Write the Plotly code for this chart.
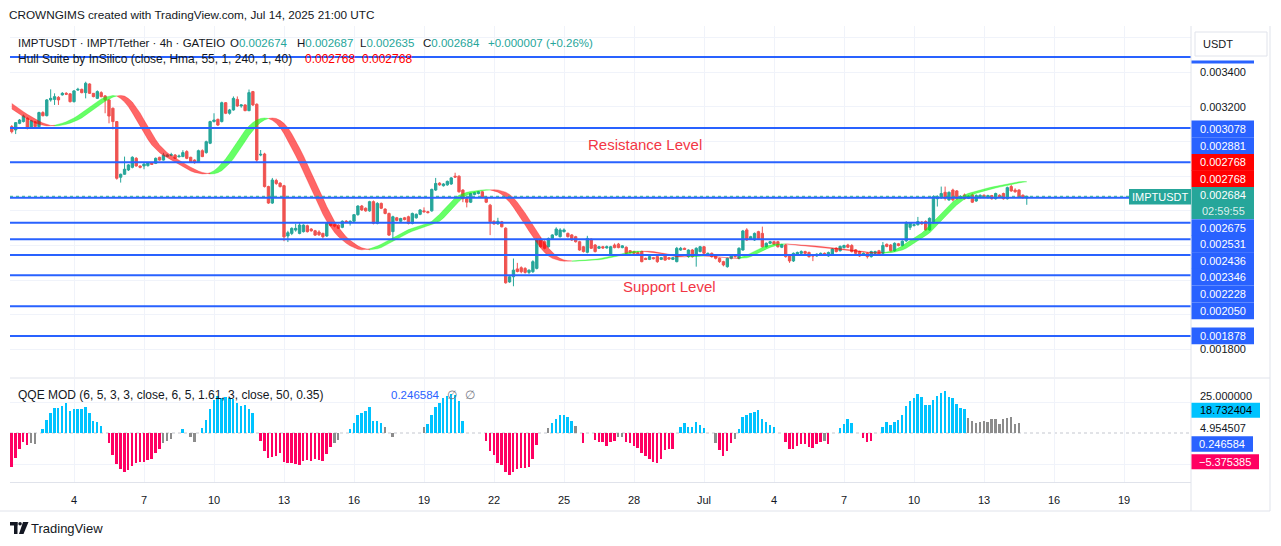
import plotly.graph_objects as go
import pandas as pd

# ------------------------------------------------------------------ data
start_time = "2025-06-01 08:00"      # first 4h bar
price_unit = 1e-6                    # values below are in millionths of USDT

open_ = [
    3086, 3067, 3105, 3115, 3134, 3080, 3114, 3086, 3167, 3149,
    3240, 3243, 3255, 3269, 3278, 3275, 3230, 3297, 3301, 3282,
    3332, 3278, 3249, 3282, 3263, 3240, 3192, 3115, 2794, 2811,
    2836, 2851, 2903, 2859, 2859, 2861, 2878, 2874, 2909, 2893,
    2914, 2920, 2922, 2912, 2913, 2942, 2909, 2893, 2884, 2947,
    2936, 2990, 3115, 3128, 3115, 3224, 3163, 3182, 3243, 3205,
    3211, 3178, 3288, 3215, 2922, 2928, 2740, 2645, 2775, 2760,
    2745, 2455, 2470, 2489, 2470, 2480, 2514, 2495, 2485, 2478,
    2470, 2455, 2530, 2520, 2518, 2505, 2540, 2530, 2540, 2578,
    2628, 2615, 2600, 2653, 2528, 2643, 2610, 2585, 2480, 2560,
    2540, 2560, 2566, 2527, 2560, 2580, 2600, 2595, 2600, 2720,
    2760, 2745, 2750, 2755, 2800, 2800, 2720, 2670, 2650, 2695,
    2700, 2710, 2680, 2633, 2540, 2525, 2537, 2500, 2190, 2220,
    2265, 2272, 2268, 2245, 2249, 2268, 2432, 2422, 2393, 2441,
    2461, 2451, 2480, 2470, 2461, 2451, 2422, 2393, 2361, 2437,
    2403, 2384, 2393, 2386, 2345, 2403, 2408, 2388, 2390, 2370,
    2365, 2360, 2365, 2326, 2320, 2330, 2336, 2320, 2345, 2330,
    2320, 2307, 2374, 2384, 2336, 2374, 2345, 2365, 2393, 2345,
    2355, 2345, 2326, 2307, 2278, 2326, 2345, 2326, 2374, 2490,
    2437, 2432, 2480, 2470, 2393, 2413, 2422, 2422, 2390, 2403,
    2345, 2311, 2350, 2355, 2365, 2360, 2345, 2340, 2345, 2355,
    2340, 2345, 2384, 2370, 2388, 2403, 2400, 2375, 2365, 2345,
    2355, 2336, 2355, 2370, 2355, 2407, 2403, 2370, 2410, 2400,
    2427, 2505, 2515, 2520, 2535, 2538, 2490, 2530, 2670, 2676,
    2707, 2663, 2720, 2715, 2672, 2692, 2672, 2692, 2657, 2677,
    2690, 2676, 2688, 2670, 2690, 2700, 2670, 2740, 2720, 2720,
    2690, 2674,
]
high = [
    3095, 3112, 3130, 3155, 3140, 3125, 3118, 3172, 3175, 3245,
    3301, 3278, 3262, 3285, 3285, 3280, 3297, 3310, 3305, 3345,
    3336, 3280, 3295, 3290, 3268, 3245, 3196, 3118, 2815, 2913,
    2870, 2915, 2910, 2862, 2875, 2882, 2882, 2908, 2912, 2935,
    2928, 2935, 2928, 2925, 2950, 2950, 2912, 2897, 2953, 2955,
    3005, 3120, 3163, 3132, 3230, 3228, 3188, 3260, 3260, 3215,
    3215, 3300, 3292, 3220, 2951, 2935, 2745, 2790, 2785, 2765,
    2750, 2485, 2505, 2525, 2530, 2522, 2520, 2500, 2490, 2488,
    2474, 2532, 2536, 2526, 2522, 2545, 2547, 2545, 2582, 2632,
    2634, 2620, 2658, 2660, 2650, 2648, 2615, 2590, 2572, 2565,
    2560, 2565, 2572, 2590, 2585, 2610, 2620, 2600, 2728, 2790,
    2765, 2760, 2775, 2795, 2820, 2805, 2725, 2675, 2705, 2710,
    2715, 2715, 2685, 2640, 2545, 2560, 2542, 2505, 2225, 2325,
    2300, 2280, 2275, 2262, 2315, 2441, 2445, 2430, 2446, 2465,
    2505, 2500, 2499, 2475, 2466, 2456, 2427, 2398, 2456, 2441,
    2408, 2398, 2398, 2400, 2398, 2412, 2415, 2402, 2395, 2374,
    2370, 2365, 2370, 2330, 2340, 2334, 2340, 2334, 2350, 2334,
    2334, 2392, 2392, 2388, 2378, 2380, 2390, 2398, 2398, 2360,
    2360, 2350, 2330, 2312, 2330, 2350, 2350, 2390, 2490, 2500,
    2456, 2475, 2485, 2509, 2418, 2427, 2427, 2427, 2410, 2408,
    2350, 2360, 2365, 2372, 2370, 2365, 2350, 2355, 2360, 2360,
    2365, 2385, 2390, 2400, 2405, 2410, 2408, 2380, 2370, 2360,
    2360, 2370, 2370, 2375, 2420, 2412, 2408, 2418, 2415, 2430,
    2540, 2535, 2525, 2565, 2540, 2545, 2562, 2690, 2690, 2740,
    2740, 2712, 2728, 2720, 2690, 2700, 2690, 2700, 2695, 2695,
    2695, 2693, 2692, 2705, 2695, 2705, 2740, 2750, 2730, 2725,
    2695, 2687,
]
low = [
    3047, 3043, 3100, 3110, 3070, 3075, 3080, 3082, 3145, 3145,
    3230, 3211, 3211, 3265, 3268, 3225, 3225, 3292, 3278, 3249,
    3274, 3255, 3245, 3255, 3163, 3105, 3070, 2780, 2763, 2808,
    2830, 2845, 2855, 2845, 2840, 2855, 2865, 2870, 2890, 2890,
    2912, 2916, 2900, 2908, 2910, 2898, 2880, 2872, 2880, 2910,
    2930, 2985, 3110, 3090, 3110, 3158, 3155, 3178, 3200, 3195,
    3175, 3175, 3205, 2880, 2915, 2735, 2640, 2640, 2750, 2735,
    2425, 2420, 2460, 2480, 2465, 2475, 2475, 2480, 2455, 2455,
    2440, 2450, 2510, 2505, 2495, 2500, 2530, 2515, 2535, 2572,
    2600, 2595, 2595, 2522, 2522, 2610, 2580, 2455, 2430, 2540,
    2535, 2545, 2522, 2522, 2555, 2575, 2590, 2585, 2595, 2715,
    2745, 2740, 2745, 2750, 2790, 2705, 2650, 2620, 2645, 2690,
    2695, 2675, 2645, 2460, 2520, 2520, 2505, 2180, 2185, 2165,
    2245, 2240, 2238, 2235, 2242, 2262, 2388, 2378, 2388, 2436,
    2456, 2446, 2475, 2446, 2427, 2417, 2370, 2360, 2355, 2380,
    2360, 2380, 2380, 2382, 2340, 2384, 2384, 2384, 2350, 2355,
    2350, 2345, 2303, 2316, 2316, 2320, 2300, 2316, 2312, 2318,
    2316, 2303, 2370, 2374, 2330, 2330, 2278, 2360, 2350, 2340,
    2330, 2320, 2300, 2280, 2272, 2320, 2330, 2320, 2370, 2427,
    2432, 2427, 2436, 2388, 2388, 2408, 2403, 2388, 2385, 2330,
    2300, 2305, 2345, 2350, 2350, 2330, 2310, 2335, 2340, 2340,
    2335, 2340, 2360, 2365, 2383, 2385, 2360, 2350, 2335, 2340,
    2325, 2330, 2350, 2345, 2350, 2390, 2365, 2365, 2395, 2395,
    2420, 2490, 2510, 2515, 2520, 2485, 2485, 2525, 2625, 2670,
    2660, 2658, 2655, 2665, 2668, 2665, 2668, 2645, 2652, 2672,
    2673, 2672, 2665, 2665, 2675, 2665, 2665, 2710, 2705, 2675,
    2670, 2635,
]
close = [
    3057, 3109, 3124, 3147, 3076, 3120, 3086, 3167, 3149, 3240,
    3249, 3259, 3240, 3278, 3273, 3230, 3292, 3301, 3282, 3336,
    3278, 3259, 3288, 3259, 3240, 3147, 3115, 2788, 2811, 2840,
    2865, 2909, 2859, 2851, 2870, 2878, 2868, 2903, 2893, 2922,
    2922, 2924, 2903, 2916, 2936, 2903, 2884, 2878, 2947, 2913,
    2999, 3115, 3124, 3095, 3224, 3163, 3182, 3249, 3205, 3211,
    3178, 3282, 3211, 2893, 2926, 2740, 2645, 2778, 2758, 2740,
    2450, 2474, 2499, 2499, 2518, 2518, 2480, 2485, 2460, 2462,
    2451, 2528, 2515, 2512, 2500, 2540, 2535, 2540, 2578, 2628,
    2605, 2600, 2653, 2528, 2643, 2615, 2585, 2460, 2566, 2545,
    2556, 2550, 2527, 2585, 2580, 2605, 2595, 2590, 2724, 2758,
    2750, 2755, 2770, 2790, 2795, 2710, 2670, 2650, 2700, 2705,
    2710, 2680, 2650, 2537, 2525, 2540, 2508, 2185, 2220, 2258,
    2250, 2249, 2245, 2258, 2307, 2432, 2393, 2384, 2441, 2461,
    2495, 2490, 2490, 2451, 2432, 2422, 2374, 2365, 2441, 2384,
    2365, 2393, 2386, 2393, 2393, 2388, 2388, 2398, 2355, 2360,
    2355, 2350, 2307, 2320, 2336, 2324, 2307, 2330, 2316, 2322,
    2330, 2384, 2384, 2378, 2374, 2336, 2384, 2393, 2355, 2355,
    2336, 2326, 2307, 2288, 2326, 2345, 2336, 2384, 2484, 2432,
    2451, 2470, 2441, 2393, 2413, 2422, 2407, 2393, 2405, 2336,
    2311, 2355, 2360, 2365, 2355, 2336, 2340, 2350, 2355, 2345,
    2360, 2380, 2365, 2395, 2400, 2390, 2365, 2355, 2340, 2355,
    2336, 2365, 2365, 2350, 2400, 2395, 2370, 2413, 2400, 2425,
    2528, 2530, 2520, 2538, 2525, 2490, 2557, 2682, 2682, 2700,
    2672, 2707, 2663, 2670, 2682, 2670, 2685, 2650, 2688, 2690,
    2678, 2688, 2670, 2700, 2680, 2670, 2734, 2715, 2710, 2680,
    2677, 2684,
]
# Hull Suite (HMA 55) line, same units; the two values before the first bar feed the lag band
hull_before = [3220, 3204]
hull = [
    3188, 3172, 3157, 3143, 3130, 3118, 3107, 3099, 3093, 3090,
    3091, 3094, 3099, 3106, 3114, 3124, 3136, 3150, 3166, 3182,
    3199, 3216, 3232, 3246, 3256, 3263, 3266, 3262, 3248, 3228,
    3200, 3165, 3125, 3084, 3047, 3012, 2980, 2955, 2935, 2920,
    2907, 2893, 2878, 2865, 2852, 2840, 2830, 2822, 2816, 2813,
    2814, 2820, 2832, 2850, 2873, 2900, 2932, 2966, 3000, 3035,
    3065, 3090, 3110, 3124, 3133, 3136, 3133, 3122, 3105, 3080,
    3045, 3005, 2962, 2918, 2873, 2825, 2775, 2725, 2675, 2625,
    2580, 2540, 2505, 2475, 2450, 2430, 2413, 2398, 2387, 2379,
    2375, 2377, 2381, 2388, 2397, 2408, 2420, 2433, 2447, 2460,
    2472, 2482, 2492, 2500, 2507, 2514, 2521, 2529, 2540, 2558,
    2580, 2605, 2630, 2654, 2675, 2690, 2700, 2707, 2712, 2716,
    2719, 2721, 2722, 2721, 2716, 2708, 2695, 2675, 2650, 2620,
    2588, 2553, 2518, 2483, 2448, 2415, 2385, 2360, 2340, 2326,
    2317, 2312, 2310, 2310, 2311, 2312, 2313, 2315, 2316, 2318,
    2321, 2324, 2328, 2332, 2337, 2342, 2347, 2353, 2358, 2363,
    2367, 2368, 2367, 2365, 2362, 2359, 2356, 2352, 2347, 2342,
    2338, 2335, 2334, 2335, 2337, 2339, 2340, 2341, 2340, 2338,
    2336, 2333, 2331, 2329, 2327, 2326, 2326, 2329, 2335, 2344,
    2356, 2368, 2379, 2389, 2397, 2403, 2407, 2409, 2410, 2409,
    2407, 2405, 2403, 2401, 2399, 2397, 2394, 2392, 2390, 2387,
    2385, 2382, 2380, 2377, 2374, 2371, 2368, 2365, 2362, 2360,
    2358, 2357, 2356, 2357, 2359, 2362, 2367, 2374, 2384, 2398,
    2414, 2428, 2442, 2457, 2472, 2492, 2515, 2540, 2565, 2588,
    2612, 2634, 2653, 2668, 2681, 2692, 2701, 2708, 2715, 2721,
    2727, 2732, 2737, 2742, 2747, 2752, 2757, 2761, 2765, 2768,
    2769, 2768,
]
# QQE MOD histogram
qqe = [
    -27.1, -20.4, -13.1, -7.0, -9.6, -8.4, -8.9, None, 3.0, 10.5,
    16.4, 19.9, 19.9, 21.8, 23.9, 18.0, 19.1, 19.1, 19.1, 21.3,
    15.9, 9.6, 8.9, 5.6, None, -8.4, -17.8, -25.0, -29.3, -31.1,
    -29.9, -26.6, -24.5, -23.6, -23.4, -21.8, -21.3, -16.4, -12.9, -8.4,
    -6.1, -5.1, None, None, 3.0, None, -3.0, -7.0, None, 3.8,
    10.5, 19.1, 26.6, 29.9, 28.0, 29.3, 28.0, 27.1, 24.5, 21.8,
    22.6, 19.1, 16.4, None, -6.1, -14.3, -20.4, -19.1, -18.5, -16.4,
    -23.1, -24.5, -24.5, -25.0, -26.1, -22.6, -21.8, -22.3, -21.3, -21.8,
    -22.6, -16.9, -11.0, -7.8, -5.6, None, None, 3.0, 8.4, 14.5,
    16.4, 18.0, 21.3, 9.6, 9.6, 7.8, 5.1, None, -3.5, None,
    None, None, None, None, None, None, 5.1, 7.0, 14.5, 20.8,
    24.5, 28.0, 29.9, 31.5, 30.6, 26.1, 10.0, None, None, None,
    None, None, -6.6, -14.3, -17.8, -23.9, -25.8, -31.1, -33.9, -31.1,
    -29.3, -28.0, -28.0, -27.1, -21.0, -9.6, None, None, 4.3, 8.4,
    11.3, 14.8, 14.8, 12.9, 10.0, 5.6, None, -7.8, None, None,
    -5.6, -7.0, -7.0, -10.3, -7.0, -6.1, -3.5, -3.5, -7.0, -7.8,
    -10.3, -12.4, -16.4, -18.5, -20.8, -23.1, -24.5, -20.8, -13.8, -12.9,
    -12.9, None, 5.1, 8.4, 5.1, 5.1, 9.1, 6.5, 4.3, None,
    None, -8.4, -13.8, -18.3, -14.3, -7.8, -5.1, 3.3, 13.1, 14.5,
    15.9, 16.9, 18.5, 11.3, 8.6, 6.5, 4.9, None, None, -7.0,
    -12.6, -12.6, -10.3, -8.6, -8.6, -11.0, -11.9, -8.6, -7.4, -6.1,
    -8.6, None, None, 4.3, 7.3, 11.3, 8.4, None, None, -4.3,
    -7.0, -6.1, None, None, 4.6, 8.6, 6.5, 8.6, 10.3, 14.5,
    21.8, 25.8, 28.0, 31.1, 29.0, 22.6, 22.6, 26.6, 29.9, 32.0,
    33.9, 29.0, 28.0, 23.4, 19.9, 19.1, 11.9, 9.6, 8.4, 9.1,
    9.6, 8.9, 11.0, 11.0, 7.3, 11.0, 11.9, 12.6, 7.0, 8.0,
    None, None,
]
# b = above upper band, r = below lower band, g = neutral, - = no bar
qqe_state = (
    "rrrrrgg-bb" "bbbbbbbbbb" "bbbb-rrrrr" "rrrrrrrrrg" "gg--b-gg-b"
    "bbbbbbbbbb" "bbb-rrrrrr" "rrrrrrrrrr" "rrrgg--bbb" "bbbbbbg-g-"
    "------gbbb" "bbbbbbb---" "--rrrrrrrr" "rrrrrr--gb" "bbbbbg-r--"
    "rrrrrrggrr" "rrrrrrrrrr" "r-bbbbbbb-" "-grrrrgbbb" "bbbbbbb--r"
    "rrrrrrrrrg" "r--bbbb--r" "rr--bbbbbb" "bbbbbbbbbb" "bbbbbbgggg"
    "gggggggggg" "--"
)
qqe_threshold = 25
qqe_labels = [18.732404, 4.954507, 0.246584, -5.375385]

levels = [3488, 3078, 2881, 2675, 2531, 2436, 2346, 2228, 2050, 1878]  # drawn horizontal lines
price_ticks = [1800, 2000, 2200, 2400, 2600, 2800, 3000, 3200, 3400, 3600]
price_tick_shown = [1800, 3200, 3400]
x_tick_dates = ["2025-06-04", "2025-06-07", "2025-06-10", "2025-06-13", "2025-06-16",
                "2025-06-19", "2025-06-22", "2025-06-25", "2025-06-28", "2025-07-01",
                "2025-07-04", "2025-07-07", "2025-07-10", "2025-07-13", "2025-07-16",
                "2025-07-19"]
x_tick_text = ["4", "7", "10", "13", "16", "19", "22", "25", "28", "Jul",
               "4", "7", "10", "13", "16", "19"]
countdown = "02:59:55"

n = len(close)
for arr in (open_, high, low, hull, qqe):
    assert len(arr) == n, len(arr)
assert len(qqe_state) == n, len(qqe_state)

# ------------------------------------------------------------------ geometry
W, H = 1281, 546
PL, PR, PT, PB = 10, 1191, 26, 482
FONT = "Liberation Sans, Arial, sans-serif"
TEXT = "#131722"
UP, DOWN = "#26a69a", "#ef5350"
BLUE = "#2962ff"


def fx(px):
    return (px - PL) / (PR - PL)


def fy(py):
    return (PB - py) / (PB - PT)


PX_PER_PRICE = 1 / 5.769       # pixels per 1e-6
PRICE_Y_REF, PRICE_REF = 128, 3078
price_top = PRICE_REF + (PRICE_Y_REF - PT) / PX_PER_PRICE
price_bot = PRICE_REF - (377 - PRICE_Y_REF) / PX_PER_PRICE
Q_PX, Q_ZERO = 1.24, 433
q_top = (Q_ZERO - 379) / Q_PX
q_bot = (Q_ZERO - PB) / Q_PX

ref_day = pd.Timestamp("2025-06-04")
px_day = (1124 - 74) / 45.0
x_left = ref_day - pd.Timedelta(days=(74 - PL) / px_day)
x_right = ref_day + pd.Timedelta(days=(PR - 74) / px_day)

times = pd.date_range(start_time, periods=n, freq="4h")
tx = [t.strftime("%Y-%m-%d %H:%M:%S") for t in times]
bar_ms = 4 * 3600 * 1000

u = price_unit
fig = go.Figure()

fig.add_trace(go.Candlestick(
    x=tx, open=[v * u for v in open_], high=[v * u for v in high],
    low=[v * u for v in low], close=[v * u for v in close],
    increasing=dict(line=dict(color=UP, width=1), fillcolor=UP),
    decreasing=dict(line=dict(color=DOWN, width=1), fillcolor=DOWN),
    whiskerwidth=0, hoverinfo="skip", xaxis="x", yaxis="y"))

# Hull band between HMA and HMA[2]
hull_lag = (hull_before + hull)[:n]
rising = [hull[i] > hull_lag[i] for i in range(n)]
segs, s = [], 0
for i in range(1, n):
    if rising[i] != rising[s]:
        segs.append((s, i, rising[s]))
        s = i
segs.append((s, n - 1, rising[s]))
for a, b, r in segs:
    idx = list(range(a, b + 1))
    col = "rgba(0,255,0,0.6)" if r else "rgba(255,0,0,0.6)"
    edge = "rgba(0,235,0,0.45)" if r else "rgba(240,0,0,0.45)"
    fig.add_trace(go.Scatter(
        x=[tx[k] for k in idx] + [tx[k] for k in reversed(idx)],
        y=[hull[k] * u for k in idx] + [hull_lag[k] * u for k in reversed(idx)],
        fill="toself", fillcolor=col, mode="lines", line=dict(color=edge, width=0.6),
        hoverinfo="skip", xaxis="x", yaxis="y"))

qcol = {"b": "#00c3ff", "r": "#ff0062", "g": "#8c8c8c", "-": "rgba(0,0,0,0)"}
fig.add_trace(go.Bar(
    x=tx, y=qqe, marker=dict(color=[qcol[c] for c in qqe_state], line=dict(width=0)),
    width=0.5 * bar_ms, hoverinfo="skip", xaxis="x", yaxis="y2"))

shapes, ann = [], []


def rect(x0, y0, x1, y1, fill, line=None, layer="above"):
    shapes.append(dict(type="rect", xref="paper", yref="paper",
                       x0=fx(x0), x1=fx(x1), y0=fy(y1), y1=fy(y0),
                       fillcolor=fill, layer=layer,
                       line=dict(width=1 if line else 0, color=line or fill)))


def hline(py, x0, x1, color="#e0e3eb", width=1):
    shapes.append(dict(type="line", xref="paper", yref="paper", x0=fx(x0), x1=fx(x1),
                       y0=fy(py), y1=fy(py), line=dict(color=color, width=width), layer="above"))


def vline(px, y0, y1, color="#e0e3eb", width=1):
    shapes.append(dict(type="line", xref="paper", yref="paper", x0=fx(px), x1=fx(px),
                       y0=fy(y0), y1=fy(y1), line=dict(color=color, width=width), layer="above"))


def text(px, py, s, color=TEXT, size=11, anchor="left"):
    ann.append(dict(xref="paper", yref="paper", x=fx(px), y=fy(py), text=s,
                    showarrow=False, xanchor=anchor, yanchor="middle", borderpad=0,
                    font=dict(family=FONT, size=size, color=color)))


def fmt(v):
    return f"{v * u:.6f}"


# horizontal levels
for lv in levels:
    shapes.append(dict(type="line", xref="paper", x0=0, x1=1, yref="y", y0=lv * u, y1=lv * u,
                       line=dict(color=BLUE, width=2), layer="above"))
shapes.append(dict(type="line", xref="paper", x0=0, x1=fx(1129), yref="y",
                   y0=close[-1] * u, y1=close[-1] * u,
                   line=dict(color=UP, width=1, dash="dot"), layer="above"))
shapes.append(dict(type="line", xref="paper", x0=0, x1=1, yref="y2", y0=0, y1=0,
                   line=dict(color="#c4c7cf", width=1, dash="dot"), layer="below"))

# frame lines
hline(378, PL, 1270)
hline(511, 0, 1270)
vline(PR, PT, 511)
vline(1270, PT, 511)

# right axis label boxes
BX0, BX1, BXC = 1191.5, 1254, 1223
rect(BX0, 60.5, BX1, 63.5, BLUE)
col_labels = [
    (128.9, fmt(levels[1]), BLUE, "white"),
    (145.7, fmt(levels[2]), BLUE, "white"),
    (162.3, fmt(hull[-1]), "#ff0000", "white"),
    (178.7, fmt(hull_lag[-1]), "#ff0000", "white"),
    (227.7, fmt(levels[3]), BLUE, "white"),
    (244.0, fmt(levels[4]), BLUE, "white"),
    (260.7, fmt(levels[5]), BLUE, "white"),
    (277.2, fmt(levels[6]), BLUE, "white"),
    (294.0, fmt(levels[7]), BLUE, "white"),
    (310.8, fmt(levels[8]), BLUE, "white"),
    (335.9, fmt(levels[9]), BLUE, "white"),
]
for cy, s, bg, fg in col_labels:
    rect(BX0, cy - 8.4, BX1, cy + 8.4, bg)
    text(BXC, cy, s, fg, 11, "center")
rect(BX0, 187.0, BX1, 219.0, UP)
text(BXC, 195.3, fmt(close[-1]), "white", 11, "center")
text(BXC, 210.7, countdown, "rgba(255,255,255,0.85)", 11, "center")
rect(1129, 189, 1191, 204.5, UP)
text(1160, 196.8, "IMPTUSDT", "white", 11, "center")

# USDT box
rect(1195, 32, 1267, 56, "white", "#e0e3eb")
text(1202, 44, "USDT", TEXT, 11)

# indicator axis labels
text(1199, 395.5, f"{qqe_threshold:.6f}", TEXT, 11)
rect(BX0, 402.7, 1260, 417.7, "#00c3ff")
text(1226, 410.2, f"{qqe_labels[0]:.6f}", "#000000", 11, "center")
text(1199, 427.5, f"{qqe_labels[1]:.6f}", TEXT, 11)
rect(BX0, 436.2, 1253, 451.7, BLUE)
text(1222, 444.0, f"{qqe_labels[2]:.6f}", "white", 11, "center")
rect(BX0, 454.2, 1259, 469.2, "#ff0062")
text(1225, 461.7, f"{qqe_labels[3]:.6f}".replace("-", "\u2212"), "white", 11, "center")

# header texts
text(8, 15, "CROWNGIMS created with TradingView.com, Jul 14, 2025 21:00 UTC", TEXT, 11.75)
text(17, 42.7, "IMPTUSDT \u00b7 IMPT/Tether \u00b7 4h \u00b7 GATEIO", TEXT, 11.5)
TEAL = UP
for px, lab, v in [(228.5, "O", open_[-1]), (295.7, "H", high[-1]),
                   (359, "L", low[-1]), (422, "C", close[-1])]:
    text(px, 42.7, f"{lab}<span style='color:{TEAL}'>{fmt(v)}</span>", TEXT, 11.5)
chg = close[-1] - close[-2]
text(487, 42.7, f"+{fmt(chg)} (+{chg / close[-2] * 100:.2f}%)", TEAL, 11.5)
text(17, 59, "Hull Suite by InSilico (close, Hma, 55, 1, 240, 1, 40)", TEXT, 12)
text(304, 59, fmt(hull[-1]), "#ff0000", 12)
text(360.5, 59, fmt(hull_lag[-1]), "#ff0000", 12)
text(17, 395, "QQE MOD (6, 5, 3, 3, close, 6, 5, 1.61, 3, close, 50, 0.35)", TEXT, 12)
text(390, 395, f"{qqe_labels[2]:.6f}", BLUE, 11.5)
text(446, 395, "\u2205", "#787b86", 11.5)
text(464, 395, "\u2205", "#787b86", 11.5)

# drawing texts
text(645, 144, "Resistance Level", "#f23645", 15, "center")
text(670, 286, "Support Level", "#f23645", 15, "center")

# TradingView logo
rect(10, 522, 17.5, 525.5, TEXT)
rect(14, 522, 17.5, 534, TEXT)
shapes.append(dict(type="circle", xref="paper", yref="paper", x0=fx(18.3), x1=fx(21.8),
                   y0=fy(525.5), y1=fy(522), fillcolor=TEXT, line=dict(width=0)))
shapes.append(dict(type="path", xref="paper", yref="paper", fillcolor=TEXT, line=dict(width=0),
                   path=f"M {fx(23)} {fy(522)} L {fx(28.5)} {fy(522)} L {fx(23.5)} {fy(534)} "
                        f"L {fx(19)} {fy(534)} Z"))
text(30, 528, "TradingView", TEXT, 13)

fig.update_layout(
    width=W, height=H, margin=dict(l=PL, r=W - PR, t=PT, b=H - PB, pad=0),
    paper_bgcolor="white", plot_bgcolor="white", showlegend=False,
    font=dict(family=FONT, size=11, color=TEXT),
    boxgap=0.25, boxgroupgap=0.2, bargap=0,
    shapes=shapes, annotations=ann,
    xaxis=dict(type="date", range=[x_left, x_right], anchor="y2",
               tickvals=x_tick_dates, ticktext=x_tick_text, tickangle=0,
               showgrid=True, gridcolor="#f0f3fa", gridwidth=1, ticks="",
               showline=True, linecolor="#e0e3eb", zeroline=False,
               rangeslider=dict(visible=False), ticklabelstandoff=8,
               tickfont=dict(family=FONT, size=11, color=TEXT)),
    yaxis=dict(domain=[fy(377), 1], range=[price_bot * u, price_top * u], side="right",
               anchor="x", tickvals=[t * u for t in price_ticks],
               ticktext=[fmt(t) if t in price_tick_shown else "" for t in price_ticks],
               showgrid=True, gridcolor="#f0f3fa", zeroline=False, ticks="",
               showline=False, ticklabelstandoff=8,
               tickfont=dict(family=FONT, size=11, color=TEXT)),
    yaxis2=dict(domain=[0, fy(379)], range=[q_bot, q_top], side="right", anchor="x",
                tickvals=[-qqe_threshold, qqe_threshold], ticktext=["", ""],
                showgrid=True, gridcolor="#f0f3fa", zeroline=False, ticks="",
                showline=False, ticklabelstandoff=8,
                tickfont=dict(family=FONT, size=11, color=TEXT)),
)

fig.write_html("out.html")
